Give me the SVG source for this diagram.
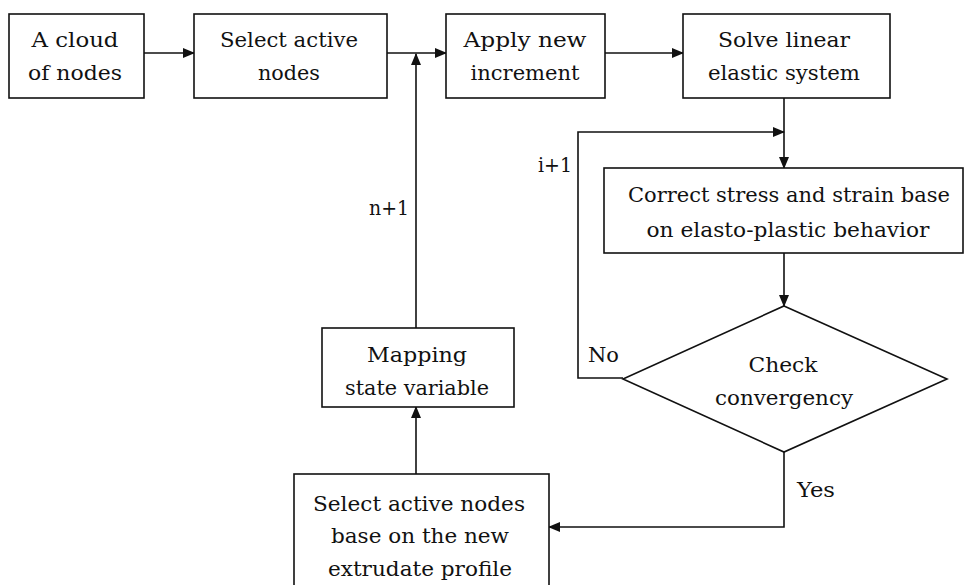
<svg xmlns="http://www.w3.org/2000/svg" width="965" height="585" viewBox="0 0 965 585">
<defs>
<marker id="ah" markerWidth="12" markerHeight="10" refX="11" refY="5" orient="auto" markerUnits="userSpaceOnUse">
<path d="M0,0 L12,5 L0,10 Z" fill="#111"/>
</marker>
<style>
.box{fill:#fff;stroke:#111;stroke-width:1.6}
.t{font-family:"DejaVu Serif","Liberation Serif",serif;font-size:20px;fill:#111;text-anchor:middle}
.l{font-family:"DejaVu Serif","Liberation Serif",serif;font-size:20px;fill:#111}
.c{fill:none;stroke:#111;stroke-width:1.6}
.ca{fill:none;stroke:#111;stroke-width:1.6;marker-end:url(#ah)}
</style>
</defs>
<rect width="965" height="585" fill="#fff"/>
<g id="connectors">
<line class="ca" x1="144" y1="53" x2="194" y2="53"/>
<line class="ca" x1="387" y1="53" x2="446" y2="53"/>
<line class="ca" x1="605" y1="53" x2="683" y2="53"/>
<line class="ca" x1="416" y1="328" x2="416" y2="54"/>
<line class="ca" x1="784" y1="98" x2="784" y2="168"/>
<polyline class="ca" points="623,378 578,378 578,132 784,132"/>
<line class="ca" x1="784" y1="253" x2="784" y2="306"/>
<polyline class="ca" points="784,452 784,527 549,527"/>
<line class="ca" x1="416" y1="474" x2="416" y2="407"/>
<text class="l" x="409" y="215" text-anchor="end" textLength="40" lengthAdjust="spacingAndGlyphs">n+1</text>
<text class="l" x="572" y="172" text-anchor="end" textLength="34" lengthAdjust="spacingAndGlyphs">i+1</text>
<text class="l" x="588" y="362" textLength="31" lengthAdjust="spacingAndGlyphs">No</text>
<text class="l" x="797" y="497" textLength="38" lengthAdjust="spacingAndGlyphs">Yes</text>
</g>
<g id="n1">
<rect class="box" x="9" y="14" width="135" height="84"/>
<text class="t" x="75" y="47" textLength="87" lengthAdjust="spacingAndGlyphs">A cloud</text>
<text class="t" x="75" y="80" textLength="94" lengthAdjust="spacingAndGlyphs">of nodes</text>
</g>
<g id="n2">
<rect class="box" x="194" y="14" width="193" height="84"/>
<text class="t" x="289" y="47" textLength="138" lengthAdjust="spacingAndGlyphs">Select active</text>
<text class="t" x="289" y="80" textLength="62" lengthAdjust="spacingAndGlyphs">nodes</text>
</g>
<g id="n3">
<rect class="box" x="446" y="14" width="159" height="84"/>
<text class="t" x="525" y="47" textLength="123" lengthAdjust="spacingAndGlyphs">Apply new</text>
<text class="t" x="525" y="80" textLength="109" lengthAdjust="spacingAndGlyphs">increment</text>
</g>
<g id="n4">
<rect class="box" x="683" y="14" width="207" height="84"/>
<text class="t" x="784" y="47" textLength="132" lengthAdjust="spacingAndGlyphs">Solve linear</text>
<text class="t" x="784" y="80" textLength="152" lengthAdjust="spacingAndGlyphs">elastic system</text>
</g>
<g id="n5">
<rect class="box" x="604" y="168" width="359" height="85"/>
<text class="t" x="789" y="202" textLength="322" lengthAdjust="spacingAndGlyphs">Correct stress and strain base</text>
<text class="t" x="788" y="237" textLength="283" lengthAdjust="spacingAndGlyphs">on elasto-plastic behavior</text>
</g>
<g id="n6">
<polygon class="box" points="784,306 947,379 784,452 623,379"/>
<text class="t" x="783" y="372" textLength="69" lengthAdjust="spacingAndGlyphs">Check</text>
<text class="t" x="784" y="405" textLength="138" lengthAdjust="spacingAndGlyphs">convergency</text>
</g>
<g id="n7">
<rect class="box" x="322" y="328" width="192" height="79"/>
<text class="t" x="417" y="362" textLength="100" lengthAdjust="spacingAndGlyphs">Mapping</text>
<text class="t" x="417" y="395" textLength="144" lengthAdjust="spacingAndGlyphs">state variable</text>
</g>
<g id="n8">
<rect class="box" x="294" y="474" width="255" height="130"/>
<text class="t" x="419" y="511" textLength="212" lengthAdjust="spacingAndGlyphs">Select active nodes</text>
<text class="t" x="420" y="543" textLength="178" lengthAdjust="spacingAndGlyphs">base on the new</text>
<text class="t" x="420" y="576" textLength="184" lengthAdjust="spacingAndGlyphs">extrudate profile</text>
</g>
</svg>
